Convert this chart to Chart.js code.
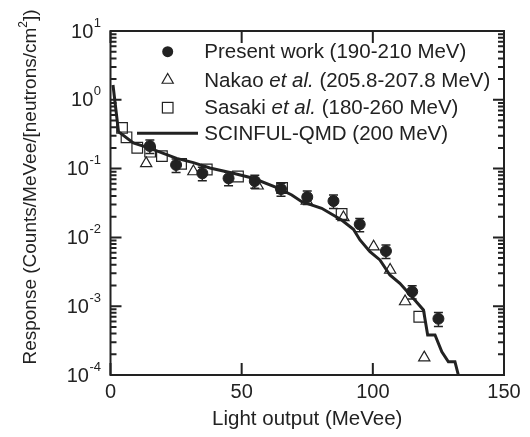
<!DOCTYPE html>
<html>
<head>
<meta charset="utf-8">
<script src="https://cdn.jsdelivr.net/npm/chart.js@4.4.0/dist/chart.umd.min.js"></script>
<style>
  html, body { margin: 0; padding: 0; background: #fff; }
  #wrap { position: relative; width: 530px; height: 437px; }
</style>
</head>
<body>
<div id="wrap"><canvas id="c" width="530" height="437"></canvas></div>
<script>
// Present work (190-210 MeV), filled circles with error bars
const presentX = [15, 25, 35, 45, 55, 65, 75, 85, 95, 105, 115, 125];
const presentY = [0.213, 0.113, 0.0855, 0.0723, 0.066, 0.0505, 0.0386, 0.0338, 0.0155, 0.00634, 0.00163, 0.000658];
const presentErr = [0.047, 0.025, 0.019, 0.016, 0.014, 0.011, 0.0085, 0.0075, 0.0034, 0.0014, 0.00036, 0.00015];

// Nakao et al. (205.8-207.8 MeV), open triangles
const nakaoX = [13.6, 31.6, 56.1, 74.8, 88.8, 100.3, 106.6, 112.3, 119.6];
const nakaoY = [0.119, 0.0908, 0.0563, 0.034, 0.0195, 0.00733, 0.00336, 0.00117, 0.000179];

// Sasaki et al. (180-260 MeV), open squares
const sasakiX = [4.4, 6.1, 10.2, 15.1, 19.6, 26.9, 36.7, 48.6, 65.4, 88.1, 117.7];
const sasakiY = [0.39, 0.285, 0.201, 0.176, 0.152, 0.117, 0.097, 0.0767, 0.0522, 0.0219, 0.000703];

// SCINFUL-QMD (200 MeV), calculation
const scinfulX = [0.95, 3.05, 8.7, 15.1, 25.2, 31.6, 37.9, 46.8, 54.4, 63.4, 69.1, 72.9, 80.5, 88.1, 92.6, 95.1, 98.9, 102.7, 106.5, 110.3, 115.4, 119.3, 120.9, 123.7, 126.3, 128.8, 131.3, 132.6, 133.2];
const scinfulY = [1.64, 0.343, 0.236, 0.197, 0.141, 0.122, 0.102, 0.0855, 0.0723, 0.0531, 0.0413, 0.033, 0.0265, 0.0179, 0.0131, 0.00917, 0.0062, 0.0047, 0.00284, 0.00215, 0.0013, 0.00088, 0.000381, 0.000381, 0.000218, 0.000156, 0.000156, 0.0001, 0.00008];

const xTicks = [0, 50, 100, 150];
const yExponents = [-4, -3, -2, -1, 0, 1];

const INK = '#222';
const FONT = '"Liberation Sans", Arial, Helvetica, sans-serif';

const pts = (xs, ys) => xs.map((x, i) => ({ x, y: ys[i] }));

const decorations = {
  id: 'decorations',
  afterDatasetsDraw(chart) {
    const ctx = chart.ctx;
    const xs = chart.scales.x, ys = chart.scales.y;
    // error bars for present work
    ctx.save();
    ctx.strokeStyle = INK;
    ctx.lineWidth = 1.5;
    presentX.forEach((x, i) => {
      const px = xs.getPixelForValue(x);
      const top = ys.getPixelForValue(presentY[i] + presentErr[i]);
      const bot = ys.getPixelForValue(presentY[i] - presentErr[i]);
      ctx.beginPath();
      ctx.moveTo(px, top); ctx.lineTo(px, bot);
      ctx.moveTo(px - 4.5, top); ctx.lineTo(px + 4.5, top);
      ctx.moveTo(px - 4.5, bot); ctx.lineTo(px + 4.5, bot);
      ctx.stroke();
    });
    ctx.restore();
  },
  afterDraw(chart) {
    const ctx = chart.ctx;
    const { left, right, top, bottom } = chart.chartArea;
    const xs = chart.scales.x, ys = chart.scales.y;
    ctx.save();
    ctx.strokeStyle = INK;
    ctx.fillStyle = INK;
    ctx.lineWidth = 2;
    ctx.strokeRect(left, top, right - left, bottom - top);

    // inward ticks
    ctx.beginPath();
    yExponents.forEach(e => {
      const y = ys.getPixelForValue(Math.pow(10, e));
      ctx.moveTo(left, y); ctx.lineTo(left + 11, y);
      ctx.moveTo(right, y); ctx.lineTo(right - 11, y);
      if (e < 1) {
        for (let m = 2; m <= 9; m++) {
          const ym = ys.getPixelForValue(m * Math.pow(10, e));
          ctx.moveTo(left, ym); ctx.lineTo(left + 6, ym);
          ctx.moveTo(right, ym); ctx.lineTo(right - 6, ym);
        }
      }
    });
    xTicks.forEach(v => {
      const x = xs.getPixelForValue(v);
      ctx.moveTo(x, bottom); ctx.lineTo(x, bottom - 12);
      ctx.moveTo(x, top); ctx.lineTo(x, top + 12);
    });
    ctx.stroke();

    // y tick labels 10^n
    ctx.textBaseline = 'middle';
    ctx.textAlign = 'right';
    yExponents.forEach(e => {
      const y = ys.getPixelForValue(Math.pow(10, e));
      const ex = String(e);
      ctx.font = '13px ' + FONT;
      const ew = ctx.measureText(ex).width;
      ctx.fillText(ex, 101, y - 8);
      ctx.font = '20px ' + FONT;
      ctx.fillText('10', 101 - ew - 0.5, y + 1);
    });

    // y axis title with superscript
    ctx.save();
    ctx.translate(31, 187);
    ctx.rotate(-Math.PI / 2);
    ctx.textAlign = 'left';
    const p1 = 'Response (Counts/MeVee/[neutrons/cm', p2 = '2', p3 = '])';
    ctx.font = '19px ' + FONT;
    const w1 = ctx.measureText(p1).width, w3 = ctx.measureText(p3).width;
    ctx.font = '12px ' + FONT;
    const w2 = ctx.measureText(p2).width;
    let tx = -(w1 + w2 + w3) / 2;
    ctx.font = '19px ' + FONT;
    ctx.fillText(p1, tx, 0); tx += w1;
    ctx.font = '12px ' + FONT;
    ctx.fillText(p2, tx, -7); tx += w2;
    ctx.font = '19px ' + FONT;
    ctx.fillText(p3, tx, 0);
    ctx.restore();

    // legend
    const mx = 167.7, tx0 = 204.3;
    const rows = [51.7, 80, 107.7, 133.3];
    ctx.lineWidth = 1.2;
    ctx.beginPath(); ctx.arc(mx, rows[0], 5.5, 0, Math.PI * 2); ctx.fill();
    ctx.beginPath();
    ctx.moveTo(mx, rows[1] - 6.5); ctx.lineTo(mx + 5.6, rows[1] + 3.25); ctx.lineTo(mx - 5.6, rows[1] + 3.25); ctx.closePath();
    ctx.stroke();
    ctx.strokeRect(mx - 5.3, rows[2] - 5.3, 10.6, 10.6);
    ctx.lineWidth = 3;
    ctx.beginPath(); ctx.moveTo(137, rows[3]); ctx.lineTo(198, rows[3]); ctx.stroke();

    const segs = [
      [['Present work (190-210 MeV)', false]],
      [['Nakao ', false], ['et al.', true], [' (205.8-207.8 MeV)', false]],
      [['Sasaki ', false], ['et al.', true], [' (180-260 MeV)', false]],
      [['SCINFUL-QMD (200 MeV)', false]]
    ];
    ctx.textAlign = 'left';
    segs.forEach((row, i) => {
      let x = tx0;
      row.forEach(([t, it]) => {
        ctx.font = (it ? 'italic ' : '') + '20.5px ' + FONT;
        ctx.fillText(t, x, rows[i] + 1);
        x += ctx.measureText(t).width;
      });
    });
    ctx.restore();
  }
};

new Chart(document.getElementById('c'), {
  type: 'scatter',
  data: {
    datasets: [
      {
        label: 'Present work (190-210 MeV)',
        data: pts(presentX, presentY),
        pointStyle: 'circle', pointRadius: 5.5,
        backgroundColor: INK, borderColor: INK, borderWidth: 1
      },
      {
        label: 'Nakao et al. (205.8-207.8 MeV)',
        data: pts(nakaoX, nakaoY),
        pointStyle: 'triangle', pointRadius: 6.5,
        backgroundColor: 'rgba(0,0,0,0)', borderColor: INK, borderWidth: 1.2
      },
      {
        label: 'Sasaki et al. (180-260 MeV)',
        data: pts(sasakiX, sasakiY),
        pointStyle: 'rect', pointRadius: 7.5,
        backgroundColor: 'rgba(0,0,0,0)', borderColor: INK, borderWidth: 1.2
      },
      {
        label: 'SCINFUL-QMD (200 MeV)',
        data: pts(scinfulX, scinfulY),
        showLine: true, pointRadius: 0, tension: 0,
        borderColor: INK, borderWidth: 3, fill: false
      }
    ]
  },
  options: {
    responsive: false,
    animation: false,
    devicePixelRatio: 1,
    layout: { padding: { top: 31, right: 26, left: 0, bottom: 0 } },
    plugins: { legend: { display: false }, tooltip: { enabled: false } },
    scales: {
      x: {
        type: 'linear', min: 0, max: 150,
        afterBuildTicks: s => { s.ticks = xTicks.map(v => ({ value: v })); },
        afterFit: s => { s.height = 62; },
        grid: { display: false, drawTicks: false },
        border: { display: false },
        ticks: { color: INK, font: { family: FONT, size: 20 }, padding: 5 },
        title: {
          display: true, text: 'Light output (MeVee)', color: INK,
          font: { family: FONT, size: 20.5 }, padding: { top: 0, bottom: 5 }
        }
      },
      y: {
        type: 'logarithmic', min: 1e-4, max: 10,
        afterFit: s => { s.width = 110.5; },
        grid: { display: false, drawTicks: false },
        border: { display: false },
        ticks: { display: false }
      }
    }
  },
  plugins: [decorations]
});
</script>
</body>
</html>
